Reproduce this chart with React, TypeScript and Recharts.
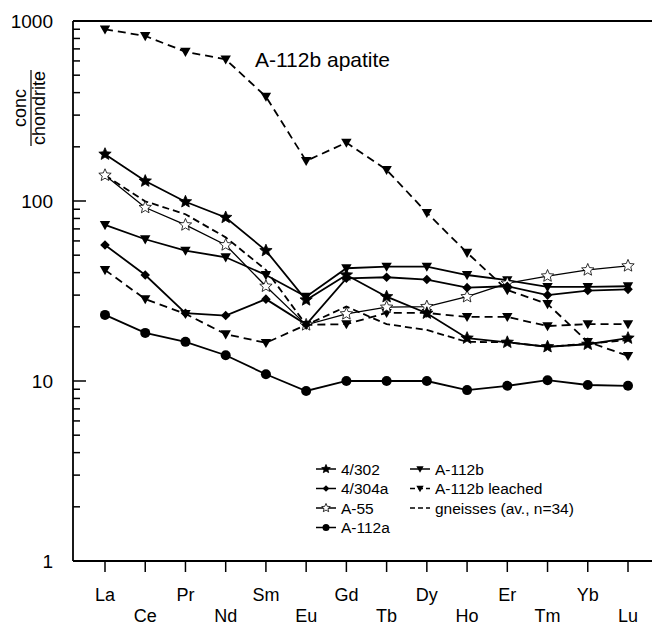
import React from 'react'
import { LineChart, Line, XAxis, YAxis, ReferenceLine } from 'recharts'

const elements = ['La', 'Ce', 'Pr', 'Nd', 'Sm', 'Eu', 'Gd', 'Tb', 'Dy', 'Ho', 'Er', 'Tm', 'Yb', 'Lu']

const s4302 = [182, 129, 99, 81, 53, 28.2, 38.8, 29.4, 23.8, 17.3, 16.4, 15.5, 16.0, 17.3]
const s4304a = [57, 38.8, 23.8, 23.1, 28.5, 20.6, 37.2, 37.7, 36.6, 33, 33.6, 30, 31.8, 32.3]
const sA55 = [139, 92, 73.6, 57, 33.6, 20.5, 23.6, 25.7, 25.9, 29.4, 34.9, 38.3, 41.4, 43.6]
const sA112a = [23.3, 18.5, 16.5, 13.9, 10.9, 8.8, 10.0, 10.0, 10.0, 8.9, 9.4, 10.1, 9.5, 9.4]
const sA112b = [73.6, 61.3, 53, 48.7, 38.8, 29.4, 42.3, 43.2, 43.2, 38.8, 36.3, 33.3, 33.3, 33.6]
const sLeachHigh = [899, 826, 675, 612, 380, 167, 211, 149, 86, 51.6, 32, 26.8, 16.5, 13.8]
const sLeachLow = [41.4, 28.5, 23.6, 18.2, 16.3, 20.5, 20.7, 23.9, 23.9, 22.7, 22.7, 20.2, 20.7, 20.7]
const sGneiss = [139, 99.6, 84.4, 62.8, 41.4, 20.5, 25.9, 20.7, 19.2, 16.5, 16.4, 15.5, 16.1, 16.9]

const yTicks = [1, 2, 3, 4, 5, 6, 7, 8, 9, 10, 20, 30, 40, 50, 60, 70, 80, 90, 100, 200, 300, 400, 500, 600, 700, 800, 900, 1000]
const yLabels = [1, 10, 100, 1000]

const data = elements.map((el, i) => ({
  el,
  s4302: s4302[i],
  s4304a: s4304a[i],
  sA55: sA55[i],
  sA112a: sA112a[i],
  sA112b: sA112b[i],
  sLeachHigh: sLeachHigh[i],
  sLeachLow: sLeachLow[i],
  sGneiss: sGneiss[i],
}))

const FONT = 'Liberation Sans, Arial, sans-serif'

function starPath(cx: number, cy: number, r: number) {
  const pts = []
  for (let i = 0; i < 10; i++) {
    const a = -Math.PI / 2 + (i * Math.PI) / 5
    const rr = i % 2 === 0 ? r : r * 0.45
    pts.push(`${cx + rr * Math.cos(a)},${cy + rr * Math.sin(a)}`)
  }
  return 'M' + pts.join('L') + 'Z'
}

function Marker({ kind, cx, cy, s = 1 }: { kind: string; cx: number; cy: number; s?: number }) {
  if (kind === 'star') return <path d={starPath(cx, cy, 6.5 * s)} fill="black" stroke="black" strokeWidth={0.8} />
  if (kind === 'ostar') return <path d={starPath(cx, cy, 6.5 * s)} fill="white" stroke="black" strokeWidth={0.8} />
  if (kind === 'diamond') {
    const d = 4.8 * s
    return <path d={`M${cx},${cy - d}L${cx + d},${cy}L${cx},${cy + d}L${cx - d},${cy}Z`} fill="black" />
  }
  if (kind === 'circle') return <circle cx={cx} cy={cy} r={5 * s} fill="black" />
  if (kind === 'tri') {
    const d = 5.2 * s
    return <path d={`M${cx - d},${cy - d * 0.75}L${cx + d},${cy - d * 0.75}L${cx},${cy + d}Z`} fill="black" />
  }
  return null
}

function dotFor(kind: string) {
  return (p: any) => (
    <g key={`${kind}-${p.index}`}>
      <Marker kind={kind} cx={p.cx} cy={p.cy} />
    </g>
  )
}

function YTick(props: any) {
  const { x, y, payload } = props
  const v = payload.value
  const major = yLabels.includes(v)
  return (
    <g>
      <line x1={x} x2={x + (major ? 13 : 7)} y1={y} y2={y} stroke="black" strokeWidth={1.5} />
      {major && (
        <text x={x - 20} y={y} dy={6.5} textAnchor="end" fontSize={19} fontFamily={FONT} fill="black">
          {v}
        </text>
      )}
    </g>
  )
}

function XTick(props: any) {
  const { x, y, payload, index } = props
  const row = index % 2
  return (
    <g>
      <line x1={x} x2={x} y1={y} y2={y + 11} stroke="black" strokeWidth={1.5} />
      <text x={x} y={y + (row ? 61 : 40)} textAnchor="middle" fontSize={18} fontFamily={FONT} fill="black">
        {payload.value}
      </text>
    </g>
  )
}

const legendLeft = [
  { label: '4/302', kind: 'star', dash: undefined },
  { label: '4/304a', kind: 'diamond', dash: undefined },
  { label: 'A-55', kind: 'ostar', dash: undefined },
  { label: 'A-112a', kind: 'circle', dash: undefined },
]
const legendRight = [
  { label: 'A-112b', kind: 'tri', dash: undefined },
  { label: 'A-112b leached', kind: 'tri', dash: '5 3' },
  { label: 'gneisses (av., n=34)', kind: 'none', dash: '5 3' },
]

function LegendCol({ items, x }: { items: any[]; x: number }) {
  return (
    <g>
      {items.map((it, i) => {
        const y = 469 + i * 19.5
        return (
          <g key={it.label}>
            <line x1={x} x2={x + 20} y1={y} y2={y} stroke="black" strokeWidth={1.5} strokeDasharray={it.dash} />
            <Marker kind={it.kind} cx={x + 10} cy={y} s={0.7} />
            <text x={x + 25} y={y + 5.5} fontSize={15.5} fontFamily={FONT} fill="black">
              {it.label}
            </text>
          </g>
        )
      })}
    </g>
  )
}

export default function App() {
  const solid = { stroke: 'black', strokeWidth: 1.8, isAnimationActive: false, activeDot: false, type: 'linear' as const }
  return (
    <div style={{ position: 'absolute', left: 0, top: 0, width: 656, height: 628, background: 'white' }}>
      <LineChart width={656} height={628} data={data} margin={{ top: 21, right: 4, bottom: 0, left: 0 }}>
        <XAxis
          dataKey="el"
          padding={{ left: 32, right: 24 }}
          height={67}
          interval={0}
          tickLine={false}
          tickSize={0}
          tickMargin={0}
          tick={<XTick />}
          axisLine={{ stroke: 'black', strokeWidth: 1.8 }}
        />
        <YAxis
          type="number"
          scale="log"
          domain={[1, 1000]}
          ticks={yTicks}
          interval={0}
          width={73}
          tickLine={false}
          tickSize={0}
          tickMargin={0}
          tick={<YTick />}
          axisLine={{ stroke: 'black', strokeWidth: 1.8 }}
          allowDataOverflow
        />
        <ReferenceLine y={1000} stroke="black" strokeWidth={1.8} />
        <Line dataKey="sGneiss" {...solid} strokeDasharray="7 4" dot={false} />
        <Line dataKey="sLeachHigh" {...solid} strokeDasharray="8 5" dot={dotFor('tri')} />
        <Line dataKey="sLeachLow" {...solid} strokeDasharray="8 5" dot={dotFor('tri')} />
        <Line dataKey="sA112a" {...solid} dot={dotFor('circle')} />
        <Line dataKey="sA112b" {...solid} dot={dotFor('tri')} />
        <Line dataKey="sA55" {...solid} strokeWidth={1.3} dot={dotFor('ostar')} />
        <Line dataKey="s4304a" {...solid} dot={dotFor('diamond')} />
        <Line dataKey="s4302" {...solid} dot={dotFor('star')} />
      </LineChart>
      <svg width={656} height={628} style={{ position: 'absolute', left: 0, top: 0, pointerEvents: 'none' }}>
        <text x={255} y={67} fontSize={21} fontFamily={FONT} fill="black">
          A-112b apatite
        </text>
        <g transform="translate(31,108) rotate(-90)">
          <text x={0} y={-5} textAnchor="middle" fontSize={18} fontFamily={FONT} fill="black">
            conc
          </text>
          <line x1={-38} x2={38} y1={0} y2={0} stroke="black" strokeWidth={1.2} />
          <text x={0} y={14} textAnchor="middle" fontSize={18} fontFamily={FONT} fill="black">
            chondrite
          </text>
        </g>
        <LegendCol items={legendLeft} x={316} />
        <LegendCol items={legendRight} x={410} />
      </svg>
    </div>
  )
}
